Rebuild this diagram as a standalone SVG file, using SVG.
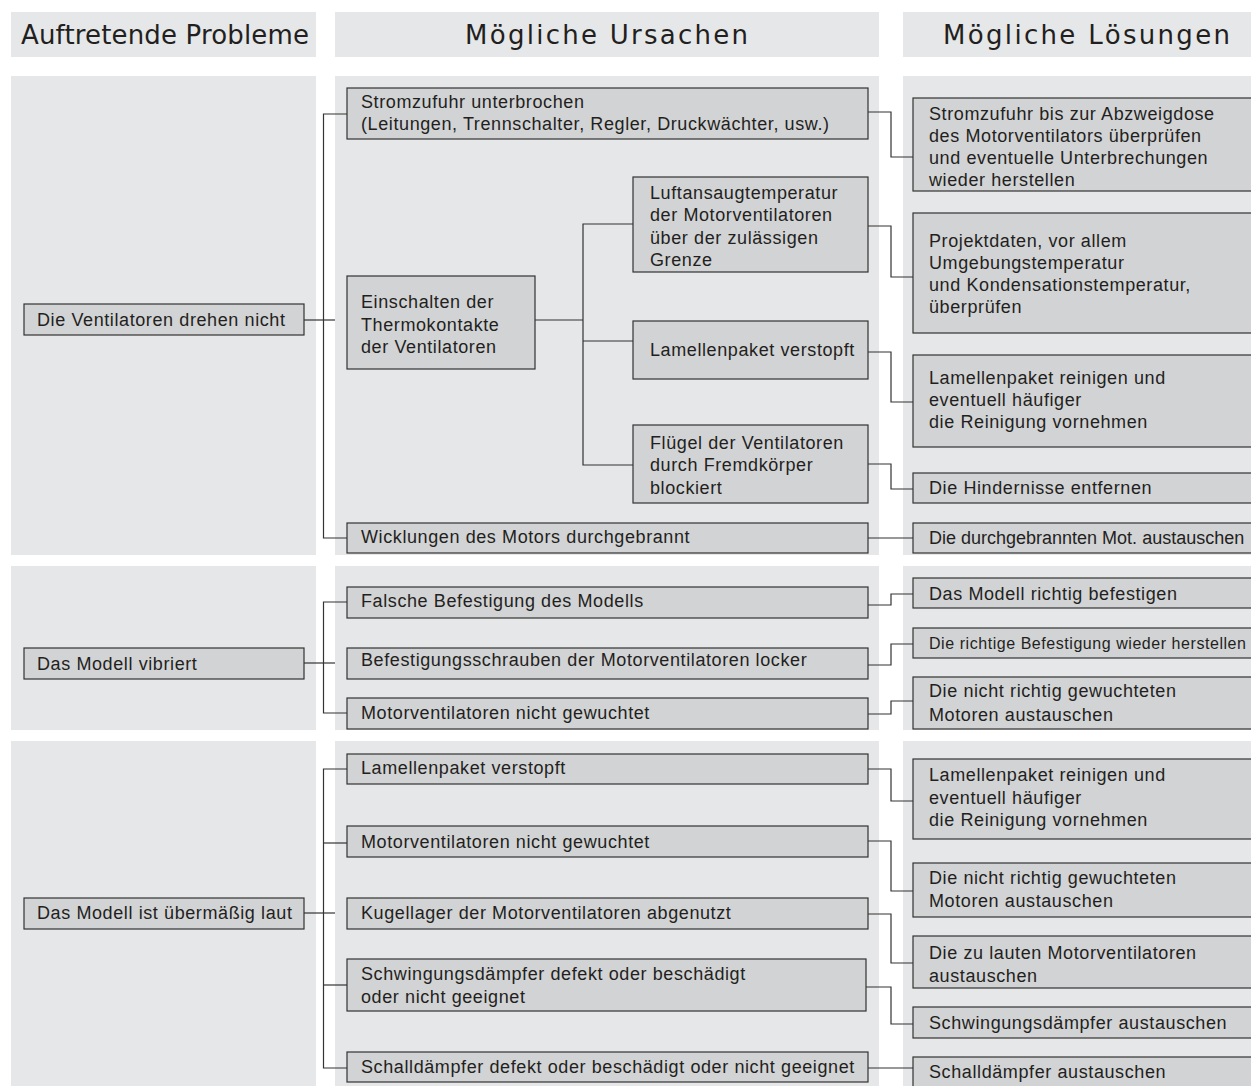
<svg xmlns="http://www.w3.org/2000/svg" width="1251" height="1086" viewBox="0 0 1251 1086">
<style>
.bg{fill:#ffffff}
.panel{fill:#e6e7e8}
.box{fill:#d2d3d5;stroke:#333333;stroke-width:1.2}
.t{font-family:"Liberation Sans",Arial,sans-serif;font-size:18px;letter-spacing:0.6px;fill:#231f20}
.s{font-size:16px;letter-spacing:0.55px}
.n{letter-spacing:0px}
.h{font-family:"DejaVu Sans","Liberation Sans",sans-serif;font-size:26px;fill:#231f20}
.c{fill:none;stroke:#333333;stroke-width:1.2}
</style>
<rect class="bg" x="0" y="0" width="1251" height="1086"/>
<g id="panels">
<rect class="panel" x="11" y="12" width="305" height="45"/>
<rect class="panel" x="335" y="12" width="544" height="45"/>
<rect class="panel" x="903" y="12" width="348" height="45"/>
<rect class="panel" x="11" y="76" width="305" height="479"/>
<rect class="panel" x="335" y="76" width="544" height="479"/>
<rect class="panel" x="903" y="76" width="348" height="479"/>
<rect class="panel" x="11" y="566" width="305" height="164"/>
<rect class="panel" x="335" y="566" width="544" height="164"/>
<rect class="panel" x="903" y="566" width="348" height="164"/>
<rect class="panel" x="11" y="741" width="305" height="345"/>
<rect class="panel" x="335" y="741" width="544" height="345"/>
<rect class="panel" x="903" y="741" width="348" height="345"/>
</g>
<g id="headers">
<text class="h" x="21" y="44" textLength="288" lengthAdjust="spacing">Auftretende Probleme</text>
<text class="h" x="465" y="44" textLength="283" lengthAdjust="spacing">Mögliche Ursachen</text>
<text class="h" x="943" y="44" textLength="287" lengthAdjust="spacing">Mögliche Lösungen</text>
</g>
<g id="connectors">
<path class="c" d="M304,320H335"/>
<path class="c" d="M347,114H323.5V538H347"/>
<path class="c" d="M535,320H583"/>
<path class="c" d="M633,224H583V465H633"/>
<path class="c" d="M583,341H633"/>
<path class="c" d="M868,112H891V157H913"/>
<path class="c" d="M868,226H891V277H913"/>
<path class="c" d="M868,352H891V402H913"/>
<path class="c" d="M868,464H891V489H913"/>
<path class="c" d="M868,538H913"/>
<path class="c" d="M304,663H335"/>
<path class="c" d="M347,602H323.5V713H347"/>
<path class="c" d="M868,605H891V594H913"/>
<path class="c" d="M868,665H891V644H913"/>
<path class="c" d="M868,714H891V701H913"/>
<path class="c" d="M304,913H335"/>
<path class="c" d="M347,769H323.5V1068H347"/>
<path class="c" d="M323.5,843H347"/>
<path class="c" d="M323.5,985H347"/>
<path class="c" d="M868,769H891V801H913"/>
<path class="c" d="M868,841H891V891H913"/>
<path class="c" d="M868,914H891V963H913"/>
<path class="c" d="M866,987H891V1024H913"/>
<path class="c" d="M868,1068H913"/>
</g>
<g id="p1"><rect class="box" x="24" y="304" width="280" height="31"/><text class="t" x="37" y="326">Die Ventilatoren drehen nicht</text></g>
<g id="c1a"><rect class="box" x="347" y="88" width="521" height="51"/><text class="t" x="361" y="108">Stromzufuhr unterbrochen</text><text class="t" x="361" y="130">(Leitungen, Trennschalter, Regler, Druckwächter, usw.)</text></g>
<g id="c1b"><rect class="box" x="347" y="276" width="188" height="93"/><text class="t" x="361" y="308">Einschalten der</text><text class="t" x="361" y="331">Thermokontakte</text><text class="t" x="361" y="353">der Ventilatoren</text></g>
<g id="c1c"><rect class="box" x="633" y="177" width="235" height="95"/><text class="t" x="650" y="199">Luftansaugtemperatur</text><text class="t" x="650" y="221">der Motorventilatoren</text><text class="t" x="650" y="244">über der zulässigen</text><text class="t" x="650" y="266">Grenze</text></g>
<g id="c1d"><rect class="box" x="633" y="321" width="235" height="58"/><text class="t" x="650" y="356">Lamellenpaket verstopft</text></g>
<g id="c1e"><rect class="box" x="633" y="425" width="235" height="78"/><text class="t" x="650" y="449">Flügel der Ventilatoren</text><text class="t" x="650" y="471">durch Fremdkörper</text><text class="t" x="650" y="494">blockiert</text></g>
<g id="c1f"><rect class="box" x="347" y="523" width="521" height="30"/><text class="t" x="361" y="543">Wicklungen des Motors durchgebrannt</text></g>
<g id="s1a"><rect class="box" x="913" y="98" width="345" height="93"/><text class="t" x="929" y="120">Stromzufuhr bis zur Abzweigdose</text><text class="t" x="929" y="142">des Motorventilators überprüfen</text><text class="t" x="929" y="164">und eventuelle Unterbrechungen</text><text class="t" x="929" y="186">wieder herstellen</text></g>
<g id="s1b"><rect class="box" x="913" y="213" width="345" height="120"/><text class="t" x="929" y="247">Projektdaten, vor allem</text><text class="t" x="929" y="269">Umgebungstemperatur</text><text class="t" x="929" y="291">und Kondensationstemperatur,</text><text class="t" x="929" y="313">überprüfen</text></g>
<g id="s1c"><rect class="box" x="913" y="355" width="345" height="92"/><text class="t" x="929" y="384">Lamellenpaket reinigen und</text><text class="t" x="929" y="406">eventuell häufiger</text><text class="t" x="929" y="428">die Reinigung vornehmen</text></g>
<g id="s1d"><rect class="box" x="913" y="473" width="345" height="30"/><text class="t" x="929" y="494">Die Hindernisse entfernen</text></g>
<g id="s1e"><rect class="box" x="913" y="523" width="345" height="30"/><text class="t n" x="929" y="544">Die durchgebrannten Mot. austauschen</text></g>
<g id="p2"><rect class="box" x="24" y="648" width="280" height="31"/><text class="t" x="37" y="670">Das Modell vibriert</text></g>
<g id="c2a"><rect class="box" x="347" y="587" width="521" height="31"/><text class="t" x="361" y="607">Falsche Befestigung des Modells</text></g>
<g id="c2b"><rect class="box" x="347" y="648" width="521" height="31"/><text class="t" x="361" y="666">Befestigungsschrauben der Motorventilatoren locker</text></g>
<g id="c2c"><rect class="box" x="347" y="698" width="521" height="31"/><text class="t" x="361" y="719">Motorventilatoren nicht gewuchtet</text></g>
<g id="s2a"><rect class="box" x="913" y="578" width="345" height="30"/><text class="t" x="929" y="600">Das Modell richtig befestigen</text></g>
<g id="s2b"><rect class="box" x="913" y="628" width="345" height="30"/><text class="t s" x="929" y="649">Die richtige Befestigung wieder herstellen</text></g>
<g id="s2c"><rect class="box" x="913" y="677" width="345" height="52"/><text class="t" x="929" y="697">Die nicht richtig gewuchteten</text><text class="t" x="929" y="721">Motoren austauschen</text></g>
<g id="p3"><rect class="box" x="24" y="898" width="280" height="31"/><text class="t" x="37" y="919">Das Modell ist übermäßig laut</text></g>
<g id="c3a"><rect class="box" x="347" y="754" width="521" height="30"/><text class="t" x="361" y="774">Lamellenpaket verstopft</text></g>
<g id="c3b"><rect class="box" x="347" y="826" width="521" height="31"/><text class="t" x="361" y="848">Motorventilatoren nicht gewuchtet</text></g>
<g id="c3c"><rect class="box" x="347" y="898" width="521" height="31"/><text class="t" x="361" y="919">Kugellager der Motorventilatoren abgenutzt</text></g>
<g id="c3d"><rect class="box" x="347" y="959" width="519" height="52"/><text class="t" x="361" y="980">Schwingungsdämpfer defekt oder beschädigt</text><text class="t" x="361" y="1003">oder nicht geeignet</text></g>
<g id="c3e"><rect class="box" x="347" y="1052" width="521" height="30"/><text class="t" x="361" y="1073">Schalldämpfer defekt oder beschädigt oder nicht geeignet</text></g>
<g id="s3a"><rect class="box" x="913" y="759" width="345" height="80"/><text class="t" x="929" y="781">Lamellenpaket reinigen und</text><text class="t" x="929" y="804">eventuell häufiger</text><text class="t" x="929" y="826">die Reinigung vornehmen</text></g>
<g id="s3b"><rect class="box" x="913" y="863" width="345" height="54"/><text class="t" x="929" y="884">Die nicht richtig gewuchteten</text><text class="t" x="929" y="907">Motoren austauschen</text></g>
<g id="s3c"><rect class="box" x="913" y="936" width="345" height="52"/><text class="t" x="929" y="959">Die zu lauten Motorventilatoren</text><text class="t" x="929" y="982">austauschen</text></g>
<g id="s3d"><rect class="box" x="913" y="1007" width="345" height="31"/><text class="t" x="929" y="1029">Schwingungsdämpfer austauschen</text></g>
<g id="s3e"><rect class="box" x="913" y="1057" width="345" height="40"/><text class="t" x="929" y="1078">Schalldämpfer austauschen</text></g>
</svg>
